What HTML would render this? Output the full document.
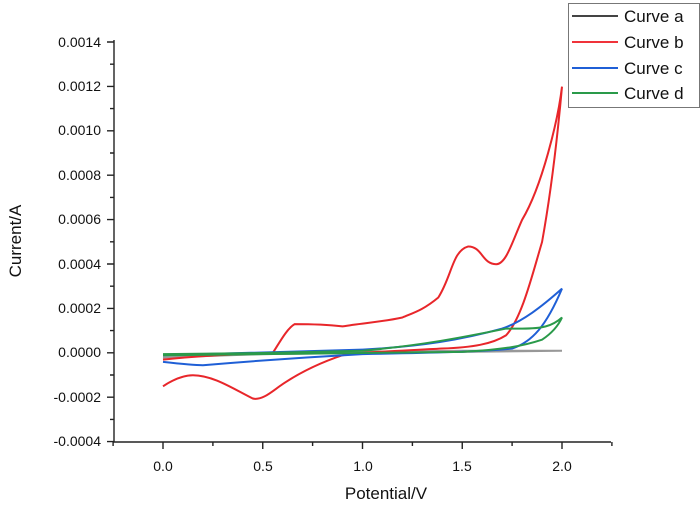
<!DOCTYPE html>
<html><head><style>
body{margin:0;background:#fff;}
svg{display:block;font-family:"Liberation Sans",Arial,sans-serif;}
</style></head><body>
<svg width="700" height="506" viewBox="0 0 700 506">
<g stroke="#222" stroke-width="1.4" fill="none">
<line x1="114" y1="40" x2="114" y2="442"/>
<line x1="113" y1="442" x2="611" y2="442"/>
<path d="M107 42H114M107 86.4H114M107 130.8H114M107 175.2H114M107 219.6H114M107 264H114M107 308.4H114M107 352.8H114M107 397.2H114M107 441.6H114"/>
<path d="M110 64.2H114M110 108.6H114M110 153H114M110 197.4H114M110 241.8H114M110 286.2H114M110 330.6H114M110 375H114M110 419.4H114"/>
<path d="M163 442V449M262.75 442V449M362.5 442V449M462.25 442V449M562 442V449"/>
<path d="M113.1 442V446M212.9 442V446M312.6 442V446M412.4 442V446M512.1 442V446M611.9 442V446"/>
</g>
<g font-size="14" fill="#111" text-anchor="end">
<text x="101" y="47">0.0014</text>
<text x="101" y="91">0.0012</text>
<text x="101" y="135">0.0010</text>
<text x="101" y="180">0.0008</text>
<text x="101" y="224">0.0006</text>
<text x="101" y="269">0.0004</text>
<text x="101" y="313">0.0002</text>
<text x="101" y="357">0.0000</text>
<text x="101" y="402">-0.0002</text>
<text x="101" y="446">-0.0004</text>
</g>
<g font-size="14" fill="#111" text-anchor="middle">
<text x="163" y="471">0.0</text>
<text x="263" y="471">0.5</text>
<text x="363" y="471">1.0</text>
<text x="462" y="471">1.5</text>
<text x="562" y="471">2.0</text>
</g>
<text x="386" y="499" font-size="17" text-anchor="middle" fill="#111">Potential/V</text>
<text transform="translate(21,241) rotate(-90)" font-size="17" text-anchor="middle" fill="#111">Current/A</text>

<g transform="translate(163,353) scale(199.5,-22.2)" fill="none" stroke-width="2">
<path vector-effect="non-scaling-stroke" stroke="#333" opacity="0.5" d="M0,-0.2 L0.5,-0.05 L1,0 L1.5,0.05 L2,0.1 L1.5,0.1 L1,0.05 L0.5,-0.02 L0,-0.1"/>
<path vector-effect="non-scaling-stroke" stroke="#e8262a" d="M0,-1.5 C0.05,-1.2 0.1,-1.0 0.15,-1.0 C0.25,-1.0 0.35,-1.6 0.45,-2.05 C0.5,-2.15 0.55,-1.7 0.6,-1.4 C0.7,-0.8 0.8,-0.4 0.9,-0.1 C1.0,0.05 1.2,0.1 1.4,0.2 C1.55,0.25 1.65,0.4 1.72,0.8 C1.8,1.6 1.85,3.5 1.9,5 C1.95,7.5 1.98,10 2.0,12 C1.98,10.5 1.9,7.5 1.8,6 C1.75,5 1.72,4 1.67,4 C1.6,4 1.6,4.8 1.53,4.8 C1.45,4.6 1.45,3.5 1.38,2.5 C1.3,1.9 1.25,1.8 1.2,1.6 C1.1,1.4 1.0,1.35 0.9,1.2 C0.8,1.3 0.7,1.3 0.66,1.3 C0.62,1.1 0.58,0.4 0.55,0 C0.4,-0.05 0.2,-0.1 0,-0.3"/>
<path vector-effect="non-scaling-stroke" stroke="#1f5fd6" d="M0,-0.4 C0.1,-0.5 0.15,-0.55 0.2,-0.55 C0.4,-0.4 0.6,-0.25 1.0,-0.05 C1.3,0 1.6,0.05 1.75,0.2 C1.85,0.5 1.92,1.2 2.0,2.9 C1.9,2.1 1.8,1.4 1.7,1.1 C1.5,0.6 1.3,0.3 1.0,0.15 C0.7,0.05 0.4,0 0,-0.1"/>
<path vector-effect="non-scaling-stroke" stroke="#2a9a4a" d="M0,-0.1 L0.5,-0.05 L1,0 L1.5,0.05 C1.7,0.15 1.8,0.3 1.9,0.6 C1.95,0.9 1.98,1.2 2.0,1.6 C1.95,1.2 1.9,1.1 1.8,1.1 L1.72,1.1 C1.5,0.7 1.3,0.35 1.0,0.1 L0.5,0 L0,-0.05"/>
</g>

<rect x="568.5" y="3.5" width="131" height="104" fill="#fff" stroke="#777" stroke-width="1"/>
<g stroke-width="2">
<line x1="572" y1="16" x2="618" y2="16" stroke="#444"/>
<line x1="572" y1="42" x2="618" y2="42" stroke="#f0333a"/>
<line x1="572" y1="68" x2="618" y2="68" stroke="#1f5fd6"/>
<line x1="572" y1="93" x2="618" y2="93" stroke="#2a9a4a"/>
</g>
<g font-size="17" fill="#111">
<text x="624" y="22">Curve a</text>
<text x="624" y="48">Curve b</text>
<text x="624" y="74">Curve c</text>
<text x="624" y="99">Curve d</text>
</g>
</svg>
</body></html>
